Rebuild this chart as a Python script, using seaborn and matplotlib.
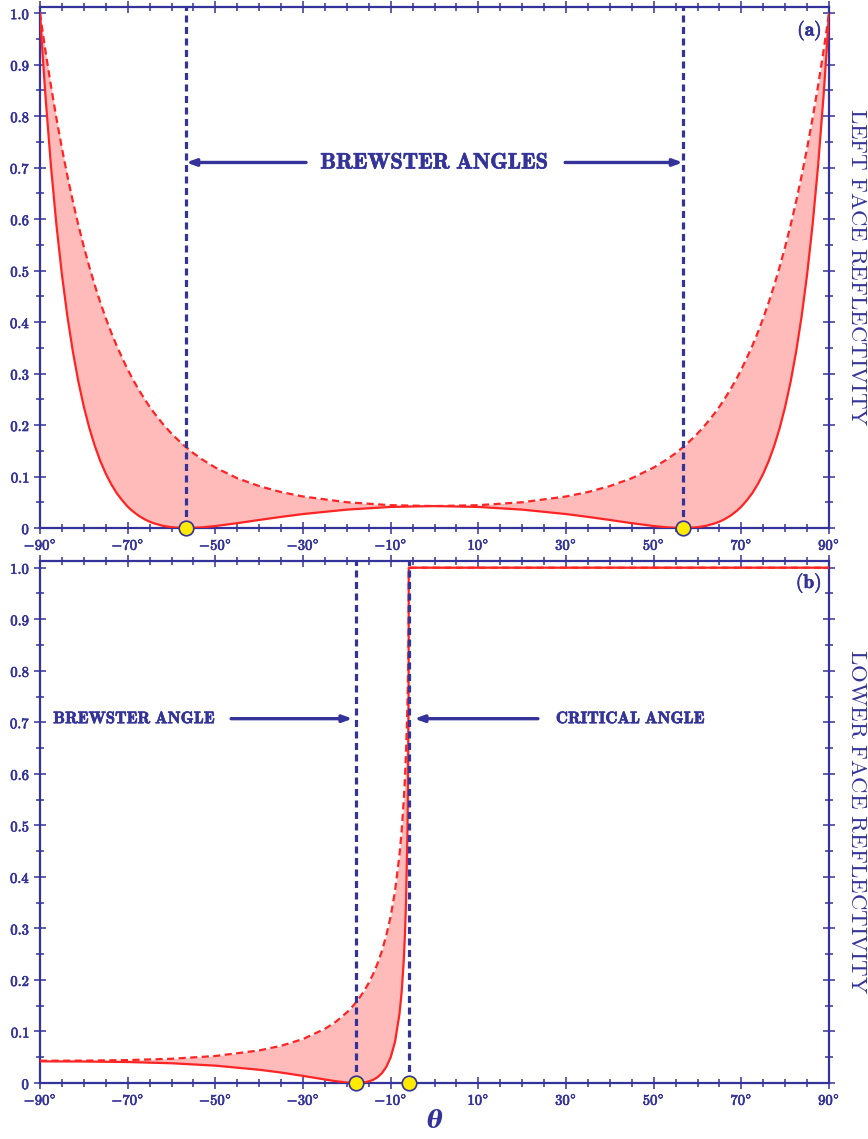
import numpy as np
import pandas as pd
import matplotlib
matplotlib.use("Agg")
import matplotlib.pyplot as plt
import matplotlib.patheffects as pe
from matplotlib.ticker import MultipleLocator, FixedLocator, FuncFormatter
import seaborn as sns

# ---- Left face: reflectivity vs. angle of incidence (degrees) ----
theta_left = [-90, -89.5, -88.75, -87.5, -86.25, -85, -83.75, -82.5, -81.25, -80, -78.75, -77.5,
              -76.25, -75, -73.75, -72.5, -71.25, -70, -69, -67.5, -66, -65, -64, -62, -60,
              -58, -56.66, -55, -53, -50, -45, -40, -35, -30, -20, -10, 0,
              10, 20, 30, 35, 40, 45, 50, 53, 55, 56.66, 58,
              60, 62, 64, 65, 66, 67.5, 69, 70, 71.25, 72.5, 73.75, 75, 76.25,
              77.5, 78.75, 80, 81.25, 82.5, 83.75, 85, 86.25, 87.5, 88.75, 89.5, 90]
rs_left = [1.0, 0.9700, 0.9266, 0.8587, 0.7958, 0.7377, 0.6840, 0.6344, 0.5886, 0.5464, 0.5074, 0.4715,
           0.4384, 0.4079, 0.3797, 0.3538, 0.3304, 0.3079, 0.2915, 0.2689, 0.2484, 0.2357, 0.2239, 0.2024, 0.1834,
           0.1668, 0.1567, 0.1453, 0.1331, 0.1174, 0.0967, 0.0814, 0.0698, 0.0612, 0.0500, 0.0443, 0.0426,
           0.0443, 0.0500, 0.0612, 0.0698, 0.0814, 0.0967, 0.1174, 0.1331, 0.1453, 0.1567, 0.1668,
           0.1834, 0.2024, 0.2239, 0.2357, 0.2484, 0.2689, 0.2915, 0.3079, 0.3304, 0.3538, 0.3797, 0.4079, 0.4384,
           0.4715, 0.5074, 0.5464, 0.5886, 0.6344, 0.6840, 0.7377, 0.7958, 0.8587, 0.9266, 0.9700, 1.0]
rp_left = [1.0, 0.9320, 0.8385, 0.7027, 0.5885, 0.4922, 0.4109, 0.3424, 0.2844, 0.2355, 0.1943, 0.1595,
           0.1302, 0.1056, 0.0850, 0.0677, 0.0537, 0.0415, 0.0336, 0.0238, 0.0163, 0.0123, 0.0091, 0.0043, 0.0015,
           0.0002, 0.0, 0.0003, 0.0013, 0.0038, 0.0094, 0.0156, 0.0216, 0.0271, 0.0357, 0.0409, 0.0426,
           0.0409, 0.0357, 0.0271, 0.0216, 0.0156, 0.0094, 0.0038, 0.0013, 0.0003, 0.0, 0.0002,
           0.0015, 0.0043, 0.0091, 0.0123, 0.0163, 0.0238, 0.0336, 0.0415, 0.0537, 0.0677, 0.0850, 0.1056, 0.1302,
           0.1595, 0.1943, 0.2355, 0.2844, 0.3424, 0.4109, 0.4922, 0.5885, 0.7027, 0.8385, 0.9320, 1.0]
brewster_left = [-56.66, 56.66]

# ---- Lower face: reflectivity vs. angle of incidence on the left face ----
theta_low = [-90, -80, -70, -60, -50, -40, -35, -30, -25, -22.5, -20, -19, -17.89, -17, -16, -15,
             -14, -13, -12, -11, -10, -9, -8, -7.5, -7, -6.75, -6.5, -6.2, -6.1, -6.0, -5.95,
             -5.9, -5.874, 90]
rs_low = [0.0432, 0.0434, 0.0445, 0.0470, 0.0524, 0.0632, 0.0722, 0.0853, 0.1051, 0.1189, 0.1370, 0.1457,
          0.1567, 0.1667, 0.1795, 0.1943, 0.2115, 0.2318, 0.2561, 0.2863, 0.3234, 0.3729, 0.4421, 0.4885,
          0.5500, 0.5900, 0.6402, 0.7245, 0.7645, 0.8186, 0.8556, 0.9126, 1.0, 1.0]
rp_low = [0.0420, 0.0417, 0.0407, 0.0383, 0.0337, 0.0257, 0.0203, 0.0138, 0.0068, 0.0035, 0.0009, 0.0003,
          0.0, 0.0002, 0.0011, 0.0030, 0.0061, 0.0112, 0.0190, 0.0312, 0.0498, 0.0802, 0.1334, 0.1756,
          0.2396, 0.2861, 0.3501, 0.4716, 0.5355, 0.6287, 0.6969, 0.8093, 1.0, 1.0]
brewster_low = -17.89
critical_low = -5.874

x_major = [-90, -70, -50, -30, -10, 10, 30, 50, 70, 90]

BLUE = "#333399"
RED = "#ff2424"
PINK = "#ffbaba"
YELLOW = "#ffea00"

sns.set_style("white")
plt.rcParams["mathtext.fontset"] = "cm"
plt.rcParams["font.family"] = ["DejaVu Serif"]

BOLDEN = [pe.withStroke(linewidth=0.5, foreground=BLUE)]

fig = plt.figure(figsize=(8.68, 11.39), dpi=100)
ax1 = fig.add_axes([40 / 868, 1 - 528 / 1139, 789 / 868, 521 / 1139])
ax2 = fig.add_axes([40 / 868, 1 - 1083 / 1139, 789 / 868, 522 / 1139])

df_left = pd.DataFrame({"theta": theta_left, "Rs": rs_left, "Rp": rp_left})
df_low = pd.DataFrame({"theta": theta_low, "Rs": rs_low, "Rp": rp_low})


def deg_fmt(v, pos):
    return r"$\mathbf{%d^{\circ}}$" % int(round(v))


def refl_fmt(v, pos):
    if abs(v) < 1e-9:
        return r"$\mathbf{0}$"
    return r"$\mathbf{%.1f}$" % v


def draw_curves(ax, df):
    ax.fill_between(df["theta"], df["Rp"], df["Rs"], color=PINK, lw=0, zorder=1)
    sns.lineplot(data=df, x="theta", y="Rs", ax=ax, color=RED, lw=1.6,
                 linestyle=(0, (3.2, 2.0)), estimator=None, zorder=3)
    sns.lineplot(data=df, x="theta", y="Rp", ax=ax, color=RED, lw=1.6,
                 estimator=None, zorder=3)


def style_axes(ax, ytop):
    ax.set_xlim(-90, 90)
    ax.set_ylim(0, ytop)
    for sp in ax.spines.values():
        sp.set_color(BLUE)
        sp.set_linewidth(1.6)
        sp.set_visible(True)
    ax.xaxis.set_major_locator(FixedLocator(x_major))
    ax.xaxis.set_minor_locator(MultipleLocator(5))
    ax.yaxis.set_major_locator(MultipleLocator(0.1))
    ax.yaxis.set_minor_locator(MultipleLocator(0.05))
    ax.xaxis.set_major_formatter(FuncFormatter(deg_fmt))
    ax.yaxis.set_major_formatter(FuncFormatter(refl_fmt))
    ax.tick_params(which="both", direction="inout", top=True, right=True,
                   bottom=True, left=True, color=BLUE, labelcolor=BLUE, width=1.1)
    ax.tick_params(which="major", length=8, labelsize=10.5, pad=3)
    ax.tick_params(which="minor", length=6)
    ax.set_xlabel("")
    ax.set_ylabel("")


def vline(ax, x):
    ax.axvline(x, color=BLUE, lw=2.3, linestyle=(0, (2.2, 1.4)), zorder=4)


def dots(ax, xs):
    sns.scatterplot(x=xs, y=[0] * len(xs), ax=ax, s=110, color=YELLOW,
                    edgecolor=BLUE, linewidth=1.2, zorder=6, clip_on=False)


def arrow(ax, x0, x1, y):
    ax.annotate("", xy=(x1, y), xytext=(x0, y),
                arrowprops=dict(arrowstyle="-|>,head_length=0.55,head_width=0.2",
                                color=BLUE, lw=2.4, shrinkA=0, shrinkB=0), zorder=5)


def label(ax, x, y, s, size, **kw):
    t = ax.text(x, y, s, color=BLUE, fontsize=size, **kw)
    t.set_path_effects(BOLDEN)
    return t


# ---- panel (a) ----
draw_curves(ax1, df_left)
style_axes(ax1, 1.012)
for b in brewster_left:
    vline(ax1, b)
dots(ax1, brewster_left)
label(ax1, 0, 0.71, r"$\mathbf{BREWSTER\ ANGLES}$", 16, ha="center", va="center")
arrow(ax1, -29.3, -56.66, 0.71)
arrow(ax1, 29.8, 56.66, 0.71)
label(ax1, 0.991, 0.955, r"$\mathbf{(a)}$", 14, transform=ax1.transAxes,
      ha="right", va="center")
ax1.text(1.0355, 0.5, r"$\mathrm{LEFT\ FACE\ REFLECTIVITY}$", transform=ax1.transAxes,
         color=BLUE, fontsize=16.5, rotation=-90, ha="center", va="center")

# ---- panel (b) ----
draw_curves(ax2, df_low)
style_axes(ax2, 1.013)
vline(ax2, brewster_low)
vline(ax2, critical_low)
dots(ax2, [brewster_low, critical_low])
label(ax2, -87.0, 0.707, r"$\mathbf{BREWSTER\ ANGLE}$", 12, ha="left", va="center")
arrow(ax2, -46.4, -18.7, 0.707)
label(ax2, 27.7, 0.707, r"$\mathbf{CRITICAL\ ANGLE}$", 12, ha="left", va="center")
arrow(ax2, 23.6, -4.6, 0.707)
label(ax2, 0.991, 0.958, r"$\mathbf{(b)}$", 14, transform=ax2.transAxes,
      ha="right", va="center")
ax2.text(1.0355, 0.5, r"$\mathrm{LOWER\ FACE\ REFLECTIVITY}$", transform=ax2.transAxes,
         color=BLUE, fontsize=16.5, rotation=-90, ha="center", va="center")
ax2.text(0.5, -0.073, "θ", transform=ax2.transAxes, color=BLUE, fontsize=17,
         fontweight="bold", fontstyle="italic", family="DejaVu Serif",
         ha="center", va="center")

fig.canvas.draw()
for ax in (ax1, ax2):
    for t in ax.get_xticklabels() + ax.get_yticklabels():
        t.set_path_effects(BOLDEN)

fig.savefig("out.png", dpi=100)
